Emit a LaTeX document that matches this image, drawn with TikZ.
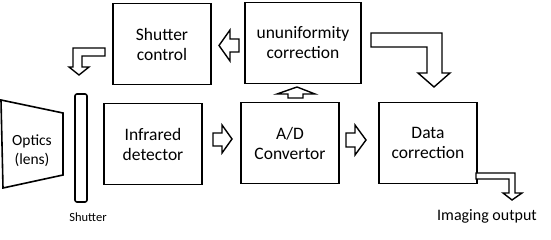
\documentclass[tikz,border=0pt]{standalone}
\usepackage{fontspec}
\setmainfont{Carlito}
\usetikzlibrary{positioning}

\begin{document}
\begin{tikzpicture}[x=1pt,y=-1pt,
    block/.style={draw,line width=1.6pt,minimum width=98pt,minimum height=81pt,
      inner sep=0pt,align=center,font=\fontsize{17.5}{20}\selectfont},
    hollow/.style={draw,line width=1.4pt,fill=white,line join=miter},
    lbl/.style={inner sep=0pt,align=center}
  ]
    \useasboundingbox (0,0) rectangle (551,240);
    % processing blocks
    \node[block] (shutctl) at (162,44) {Shutter\\control};
    \node[block,minimum width=116pt] (nuc) at (303,43) {ununiformity\\correction};
    \node[block] (detector) at (153,144) {Infrared\\detector};
    \node[block] (adc) at (290,143) {A/D\\Convertor};
    \node[block] (datacorr) at (428,143) {Data\\correction};
    % lens and shutter
    \draw[line width=1.6pt,line join=miter] (1,100) -- (63,113) -- (63,175) -- (3,188) -- cycle;
    \node[lbl,font=\fontsize{15.5}{19}\selectfont] (optics) at (32,151) {Optics\\(lens)};
    \node[draw,line width=1.6pt,rounded corners=2pt,minimum width=12pt,minimum height=108pt,
      inner sep=0pt] (shutter) at (81,148) {};
    \node[lbl,font=\fontsize{12.5}{14}\selectfont] (shutlbl) at (88,217) {Shutter};
    \node[lbl,font=\fontsize{16}{19}\selectfont] (imgout) at (487,216) {Imaging output};
    % hollow arrows
    \draw[hollow] (239,39) -- (230,39) -- (230,30) -- (219,45.5) -- (230,61) -- (230,52)
      -- (239,52) -- cycle;
    \draw[hollow] (213,133) -- (222,133) -- (222,125) -- (232,139) -- (222,153) -- (222,146)
      -- (213,146) -- cycle;
    \draw[hollow] (346,133) -- (355,133) -- (355,125) -- (366,140) -- (355,155) -- (355,147)
      -- (346,147) -- cycle;
    \draw[hollow] (288,98) -- (288,94) -- (277,94) -- (297,87) -- (315,94) -- (303,94)
      -- (303,98) -- cycle;
    \draw[hollow] (105,48) -- (73,48) -- (73,67) -- (69,67) -- (79,75) -- (89,67) -- (82,67)
      -- (82,56) -- (105,56) -- cycle;
    \draw[hollow] (371,33) -- (442,33) -- (442,73) -- (450,73) -- (434,87) -- (418,73)
      -- (427,73) -- (427,47) -- (371,47) -- cycle;
    \draw[hollow] (476,173) -- (515,173) -- (515,193) -- (522,193) -- (512,200) -- (503,193)
      -- (509,193) -- (509,179) -- (476,179) -- cycle;
  \end{tikzpicture}
\end{document}
